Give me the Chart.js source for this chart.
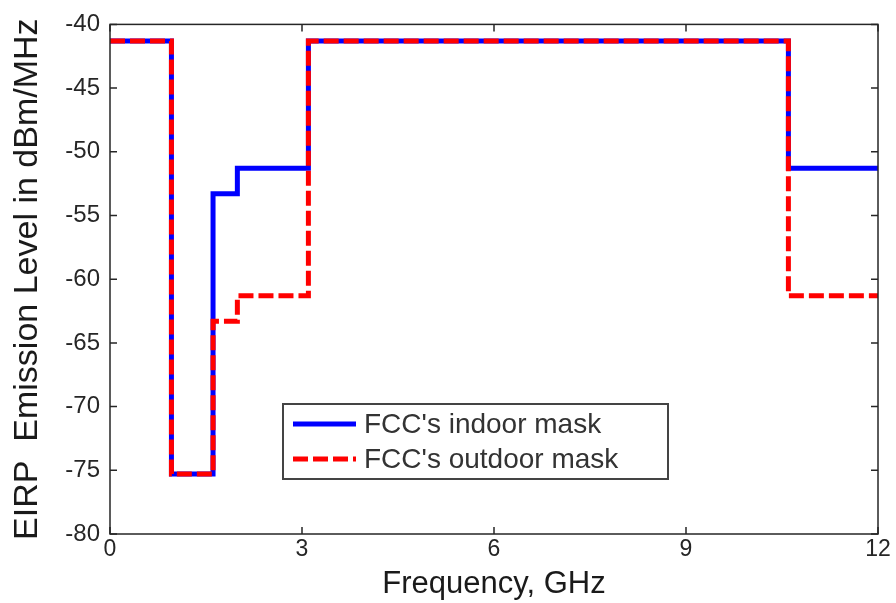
<!DOCTYPE html>
<html>
<head>
<meta charset="utf-8">
<script src="https://cdn.jsdelivr.net/npm/chart.js@4.4.1/dist/chart.umd.min.js"></script>
<style>
  html, body { margin: 0; padding: 0; background: #fff; }
  #wrap { width: 896px; height: 603px; }
</style>
</head>
<body>
<div id="wrap"><canvas id="maskChart" width="896" height="603"></canvas></div>
<script>
// band edges in GHz, level holds from each edge to the next one
var freqEdges = [0, 0.96, 1.61, 1.99, 3.1, 10.6, 12];
var indoorLevel = [-41.3, -75.3, -53.3, -51.3, -41.3, -51.3, -51.3];
var outdoorLevel = [-41.3, -75.3, -63.3, -61.3, -41.3, -61.3, -61.3];
var seriesNames = ["FCC's indoor mask", "FCC's outdoor mask"];
var xTicks = [0, 3, 6, 9, 12];
var yTicks = [-40, -45, -50, -55, -60, -65, -70, -75, -80];

function toPoints(levels) {
  return freqEdges.map(function (f, i) { return { x: f, y: levels[i] }; });
}

var fontName = '"Liberation Sans", Arial, sans-serif';
var inkColor = '#262626';

// frame on all four sides + inward tick marks
var frameTicks = {
  id: 'frameTicks',
  afterDatasetsDraw: function (chart) {
    var ctx = chart.ctx, a = chart.chartArea;
    var xs = chart.scales.x, ys = chart.scales.y;
    var len = 7;
    ctx.save();
    ctx.strokeStyle = inkColor;
    ctx.lineWidth = 1.5;
    ctx.strokeRect(a.left, a.top, a.right - a.left, a.bottom - a.top);
    ctx.beginPath();
    xTicks.forEach(function (v) {
      var px = xs.getPixelForValue(v);
      ctx.moveTo(px, a.bottom); ctx.lineTo(px, a.bottom - len);
      ctx.moveTo(px, a.top); ctx.lineTo(px, a.top + len);
    });
    yTicks.forEach(function (v) {
      var py = ys.getPixelForValue(v);
      ctx.moveTo(a.left, py); ctx.lineTo(a.left + len, py);
      ctx.moveTo(a.right, py); ctx.lineTo(a.right - len, py);
    });
    ctx.stroke();
    ctx.restore();
  }
};

// boxed legend inside the plot, like the matlab one
var boxLegend = {
  id: 'boxLegend',
  afterDraw: function (chart) {
    var ctx = chart.ctx;
    var bx = 283, by = 404, bw = 385, bh = 75;
    ctx.save();
    ctx.fillStyle = '#fff';
    ctx.fillRect(bx, by, bw, bh);
    ctx.strokeStyle = '#444';
    ctx.lineWidth = 2;
    ctx.strokeRect(bx, by, bw, bh);
    var rows = [424, 459];
    chart.data.datasets.forEach(function (ds, i) {
      var y = rows[i];
      ctx.beginPath();
      ctx.setLineDash(ds.borderDash || []);
      ctx.strokeStyle = ds.borderColor;
      ctx.lineWidth = ds.borderWidth;
      ctx.moveTo(293, y);
      ctx.lineTo(356, y);
      ctx.stroke();
      ctx.setLineDash([]);
      ctx.fillStyle = '#333';
      ctx.font = '28px ' + fontName;
      ctx.textBaseline = 'middle';
      ctx.textAlign = 'left';
      ctx.fillText(ds.label, 364, y + 1);
    });
    ctx.restore();
  }
};

var ctxM = document.getElementById('maskChart').getContext('2d');
var maskChart = new Chart(ctxM, {
  type: 'line',
  data: {
    datasets: [{
      label: seriesNames[0],
      data: toPoints(indoorLevel),
      stepped: 'before',
      borderColor: '#0000ff',
      borderWidth: 5,
      pointRadius: 0,
      fill: false,
      order: 1
    }, {
      label: seriesNames[1],
      data: toPoints(outdoorLevel),
      stepped: 'before',
      borderColor: '#ff0000',
      borderWidth: 5,
      borderDash: [15, 5],
      pointRadius: 0,
      fill: false,
      order: 0
    }]
  },
  options: {
    responsive: false,
    animation: false,
    layout: { padding: { top: 16, right: 18, left: 0, bottom: 0 } },
    plugins: {
      legend: { display: false },
      tooltip: { enabled: false }
    },
    scales: {
      x: {
        type: 'linear',
        min: 0,
        max: 12,
        afterBuildTicks: function (s) { s.ticks = xTicks.map(function (v) { return { value: v }; }); },
        afterFit: function (s) { s.height = 69; },
        grid: { display: false, drawTicks: false, tickLength: 0 },
        border: { display: false },
        ticks: { color: inkColor, padding: 2, maxRotation: 0, font: { family: fontName, size: 23 } },
        title: {
          display: true,
          text: 'Frequency, GHz',
          color: '#1a1a1a',
          font: { family: fontName, size: 31, lineHeight: 1 },
          padding: { top: 0, bottom: 3 }
        }
      },
      y: {
        min: -80,
        max: -40,
        afterBuildTicks: function (s) { s.ticks = yTicks.map(function (v) { return { value: v }; }); },
        afterFit: function (s) { s.width = 110; },
        grid: { display: false, drawTicks: false, tickLength: 0 },
        border: { display: false },
        ticks: { color: inkColor, padding: 10, font: { family: fontName, size: 24 } },
        title: {
          display: true,
          text: 'EIRP  Emission Level in dBm/MHz',
          color: '#1a1a1a',
          font: { family: fontName, size: 34, lineHeight: 1 },
          padding: { top: 11, bottom: 0 }
        }
      }
    }
  },
  plugins: [frameTicks, boxLegend]
});
</script>
</body>
</html>
